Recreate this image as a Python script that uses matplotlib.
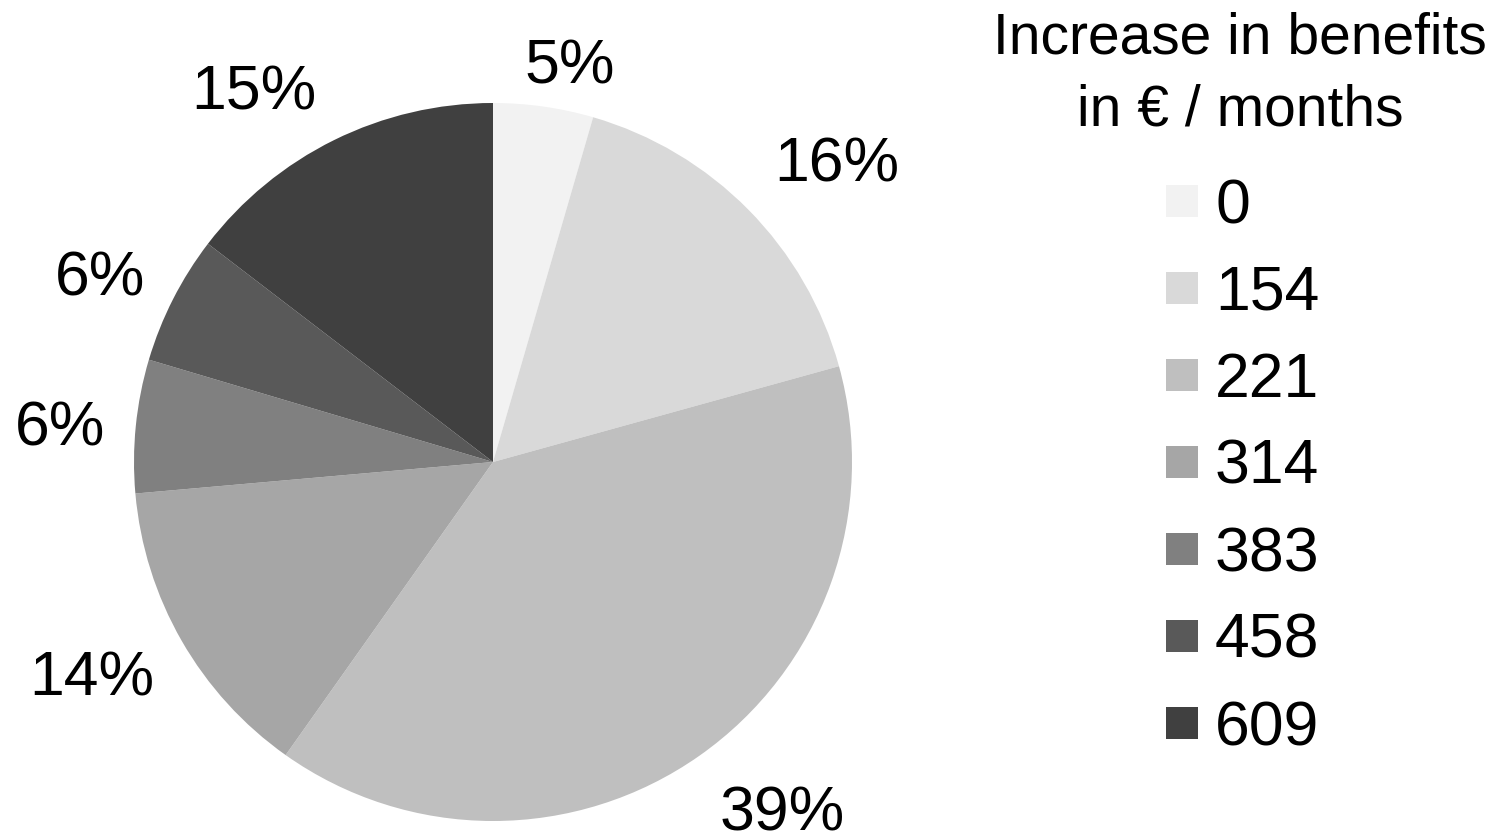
import numpy as np
import matplotlib.pyplot as plt
from matplotlib.patches import Rectangle

plt.rcParams['font.family'] = ['Liberation Sans', 'DejaVu Sans']

# Data
categories = ['0', '154', '221', '314', '383', '458', '609']
shares = [4.5, 16.2, 39.1, 13.8, 6.0, 5.8, 14.6]
pct_labels = ['5%', '16%', '39%', '14%', '6%', '6%', '15%']
colors = ['#f2f2f2', '#d9d9d9', '#bfbfbf', '#a6a6a6', '#808080', '#595959', '#404040']
legend_title = ['Increase in benefits', 'in \u20ac / months']

# label placement: angle shift from the wedge middle (deg) and distance (radii)
label_shift = [-3.4, -5.4, 3.0, 0.3, 3.6, 4.0, 7.9]
label_dist = [1.077, 1.235, 1.305, 1.292, 1.207, 1.190, 1.186]

W, H = 1512, 835
fig = plt.figure(figsize=(W / 100, H / 100), dpi=100)
ax = fig.add_axes([(493 - 359) / W, (835 - 821) / H, 718 / W, 718 / H])

wedges, _ = ax.pie(shares, colors=colors, startangle=90, counterclock=False,
                   radius=1, wedgeprops=dict(linewidth=0))
ax.set_xlim(-1, 1)
ax.set_ylim(-1, 1)
ax.set_aspect('equal')
ax.axis('off')

for w, lab, s, d in zip(wedges, pct_labels, label_shift, label_dist):
    ang = np.deg2rad((w.theta1 + w.theta2) / 2 + s)
    ax.text(d * np.cos(ang), d * np.sin(ang), lab, fontsize=45,
            ha='center', va='baseline', clip_on=False)

# legend title
fig.text(1240 / W, 1 - 53 / H, legend_title[0], fontsize=41, ha='center', va='baseline')
fig.text(1240 / W, 1 - 125 / H, legend_title[1], fontsize=41, ha='center', va='baseline')

# legend entries
step = 87
for i, (cat, col) in enumerate(zip(categories, colors)):
    top = 185 + i * step
    fig.add_artist(Rectangle((1166 / W, 1 - (top + 32) / H), 32 / W, 32 / H,
                             transform=fig.transFigure, facecolor=col, edgecolor='none'))
    fig.text(1215 / W, 1 - (top + 38) / H, cat, fontsize=45, ha='left', va='baseline')

fig.savefig('out.png', dpi=100)
